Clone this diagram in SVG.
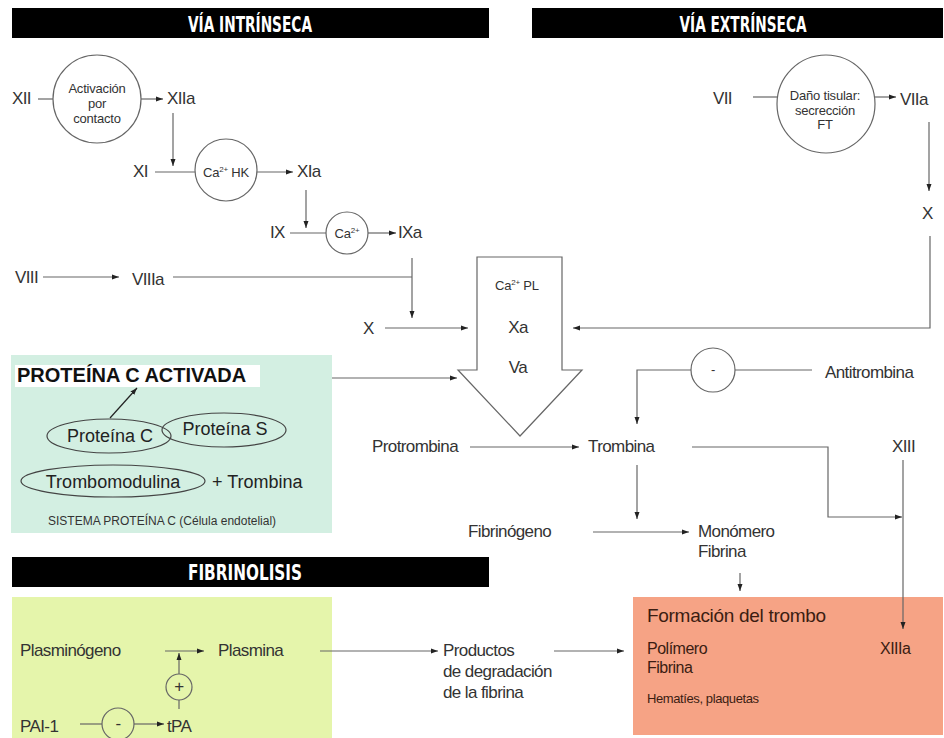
<svg xmlns="http://www.w3.org/2000/svg" width="944" height="738" viewBox="0 0 944 738">
<style>
.hdr{font-family:"DejaVu Sans Condensed","DejaVu Sans",sans-serif;font-weight:bold;font-size:22px;fill:#fff;text-anchor:middle}
.lb{font-family:"Liberation Sans",Arial,sans-serif;font-size:17px;letter-spacing:-0.6px;fill:#333}
.sm{font-family:"Liberation Sans",Arial,sans-serif;font-size:13px;letter-spacing:-0.2px;fill:#333;text-anchor:middle}
.sup{font-size:8px}
.pc{font-family:"Liberation Sans",Arial,sans-serif;font-size:18px;fill:#222}
.tr{font-family:"Liberation Sans",Arial,sans-serif;font-size:16px;letter-spacing:-0.5px;fill:#3b1d12}
.ln{fill:none;stroke:#666;stroke-width:1.2}
.ar{fill:none;stroke:#666;stroke-width:1.2;marker-end:url(#ah)}
.circ{fill:#fff;stroke:#666;stroke-width:1.2}
.ell{fill:none;stroke:#444;stroke-width:1.2}
</style>
<defs>
<marker id="ah" markerUnits="userSpaceOnUse" markerWidth="7" markerHeight="6" refX="7" refY="3" orient="auto">
<path d="M0,0.5 L7,3 L0,5.5 z" fill="#222"/>
</marker>
</defs>
<rect width="944" height="738" fill="#fff"/>

<!-- headers -->
<g id="hdr-intrinseca"><rect x="12" y="8" width="477" height="30" fill="#000"/><text class="hdr" x="250" y="32" textLength="124" lengthAdjust="spacingAndGlyphs">VÍA INTRÍNSECA</text></g>
<g id="hdr-extrinseca"><rect x="532" y="8" width="411" height="30" fill="#000"/><text class="hdr" x="743" y="32" textLength="127" lengthAdjust="spacingAndGlyphs">VÍA EXTRÍNSECA</text></g>
<g id="hdr-fibrinolisis"><rect x="12" y="557" width="477" height="30" fill="#000"/><text class="hdr" x="245" y="580" textLength="114" lengthAdjust="spacingAndGlyphs">FIBRINOLISIS</text></g>

<!-- panels -->
<g id="proteina-c">
<rect x="11" y="355" width="321" height="178" fill="#d3efe2"/>
<rect x="15" y="365" width="245" height="22" fill="#fff"/>
<text x="17" y="382" font-family="Liberation Sans,Arial,sans-serif" font-weight="bold" font-size="20" fill="#111">PROTEÍNA C ACTIVADA</text>
<ellipse class="ell" cx="109" cy="436" rx="62" ry="17"/>
<ellipse class="ell" cx="224" cy="430" rx="62" ry="17"/>
<ellipse class="ell" cx="113" cy="481" rx="92" ry="16"/>
<text class="pc" x="110" y="442" text-anchor="middle">Proteína C</text>
<text class="pc" x="225" y="435" text-anchor="middle">Proteína S</text>
<text class="pc" x="113" y="488" text-anchor="middle">Trombomodulina</text>
<text class="pc" x="212" y="488">+  Trombina</text>
<text x="48" y="525" font-family="Liberation Sans,Arial,sans-serif" font-size="12" fill="#333">SISTEMA PROTEÍNA C (Célula endotelial)</text>
<line x1="110" y1="418" x2="137" y2="388" stroke="#222" stroke-width="1.2" marker-end="url(#ah)"/>
</g>

<g id="fibrinolisis">
<rect x="12" y="597" width="320" height="141" fill="#e5f5ab"/>
<text class="lb" x="20" y="656">Plasminógeno</text>
<text class="lb" x="218" y="656">Plasmina</text>
<text class="lb" x="20" y="732">PAI-1</text>
<text class="lb" x="167" y="732">tPA</text>
<circle cx="179" cy="687" r="13" fill="none" stroke="#666" stroke-width="1.2"/>
<text class="lb" x="179" y="692" text-anchor="middle">+</text>
<circle cx="118" cy="724" r="16" fill="none" stroke="#666" stroke-width="1.2"/>
<text class="lb" x="118" y="729" text-anchor="middle">-</text>
</g>

<g id="trombo">
<rect x="633" y="597" width="310" height="138" fill="#f6a385"/>
<text x="647" y="622" font-family="Liberation Sans,Arial,sans-serif" font-size="19" letter-spacing="-0.3" fill="#3b1d12">Formación del trombo</text>
<text class="tr" x="647" y="654">Polímero</text>
<text class="tr" x="647" y="673">Fibrina</text>
<text class="tr" x="880" y="654">XIIIa</text>
<text x="647" y="703" font-family="Liberation Sans,Arial,sans-serif" font-size="13" letter-spacing="-0.4" fill="#3b1d12">Hematíes, plaquetas</text>
</g>

<!-- intrinsic nodes -->
<g id="xii"><text class="lb" x="12" y="104">XII</text></g>
<g id="activacion"><circle class="circ" cx="97" cy="99" r="44"/>
<text class="sm" x="97" y="93">Activación</text><text class="sm" x="97" y="108">por</text><text class="sm" x="97" y="123">contacto</text></g>
<g id="xiia"><text class="lb" x="167" y="104">XIIa</text></g>
<g id="xi"><text class="lb" x="133" y="177">XI</text></g>
<g id="ca-hk"><circle class="circ" cx="226" cy="170" r="31"/>
<text class="sm" x="226" y="177">Ca<tspan class="sup" dy="-5">2+</tspan><tspan dy="5"> HK</tspan></text></g>
<g id="xia"><text class="lb" x="297" y="177">XIa</text></g>
<g id="ix"><text class="lb" x="270" y="238">IX</text></g>
<g id="ca-ix"><circle class="circ" cx="347" cy="233" r="21"/>
<text class="sm" x="347" y="238">Ca<tspan class="sup" dy="-5">2+</tspan></text></g>
<g id="ixa"><text class="lb" x="398" y="238">IXa</text></g>
<g id="viii"><text class="lb" x="15" y="283">VIII</text></g>
<g id="viiia"><text class="lb" x="132" y="285">VIIIa</text></g>
<g id="x-int"><text class="lb" x="363" y="334">X</text></g>

<!-- extrinsic nodes -->
<g id="vii"><text class="lb" x="713" y="104">VII</text></g>
<g id="dano"><circle class="circ" cx="826" cy="104" r="49"/>
<text class="sm" x="825" y="100">Daño tisular:</text><text class="sm" x="825" y="115">secrección</text><text class="sm" x="825" y="129">FT</text></g>
<g id="viia"><text class="lb" x="900" y="105">VIIa</text></g>
<g id="x-ext"><text class="lb" x="922" y="219">X</text></g>

<!-- common -->
<g id="complejo">
<polygon points="477,257 562,257 562,370 582,370 520,436 458,370 477,370" fill="#fff" stroke="#666" stroke-width="1.2"/>
<text class="sm" x="495" y="290" style="text-anchor:start">Ca<tspan class="sup" dy="-5">2+</tspan><tspan dy="5">  PL</tspan></text>
<text class="lb" x="518" y="333" text-anchor="middle">Xa</text>
<text class="lb" x="518" y="373" text-anchor="middle">Va</text>
</g>
<g id="protrombina"><text class="lb" x="372" y="452">Protrombina</text></g>
<g id="trombina"><text class="lb" x="588" y="452">Trombina</text></g>
<g id="antitrombina"><circle class="circ" cx="713" cy="370" r="22"/><text class="sm" x="713" y="374">-</text>
<text class="lb" x="825" y="378">Antitrombina</text></g>
<g id="xiii"><text class="lb" x="892" y="452">XIII</text></g>
<g id="fibrinogeno"><text class="lb" x="468" y="537">Fibrinógeno</text></g>
<g id="monomero"><text class="lb" x="698" y="537">Monómero</text><text class="lb" x="698" y="557">Fibrina</text></g>
<g id="productos"><text class="lb" x="443" y="656">Productos</text><text class="lb" x="443" y="677">de degradación</text><text class="lb" x="443" y="698">de la fibrina</text></g>

<!-- connectors -->
<g id="connectors">
<line class="ln" x1="38" y1="99" x2="53" y2="99"/>
<line class="ar" x1="141" y1="99" x2="163" y2="99"/>
<line class="ar" x1="173" y1="113" x2="173" y2="166"/>
<line class="ln" x1="155" y1="172" x2="195" y2="172"/>
<line class="ar" x1="257" y1="172" x2="293" y2="172"/>
<line class="ar" x1="306" y1="190" x2="306" y2="228"/>
<line class="ln" x1="290" y1="233" x2="326" y2="233"/>
<line class="ar" x1="368" y1="233" x2="396" y2="233"/>
<line class="ar" x1="43" y1="277" x2="119" y2="277"/>
<line class="ln" x1="173" y1="277" x2="412" y2="277"/>
<line class="ar" x1="412" y1="258" x2="412" y2="318"/>
<line class="ar" x1="385" y1="328" x2="468" y2="328"/>
<line class="ar" x1="332" y1="378" x2="457" y2="378"/>
<line class="ln" x1="753" y1="97" x2="777" y2="97"/>
<line class="ar" x1="875" y1="97" x2="896" y2="97"/>
<line class="ar" x1="929" y1="122" x2="929" y2="191"/>
<polyline class="ar" points="930,236 930,328 573,328"/>
<line class="ar" x1="470" y1="447" x2="579" y2="447"/>
<line class="ln" x1="735" y1="370" x2="812" y2="370"/>
<polyline class="ar" points="691,370 637,370 637,424"/>
<line class="ar" x1="637" y1="465" x2="637" y2="519"/>
<line class="ar" x1="593" y1="532" x2="689" y2="532"/>
<polyline class="ar" points="692,447 828,447 828,517 902,517"/>
<line class="ar" x1="903" y1="460" x2="903" y2="629"/>
<line class="ar" x1="740" y1="573" x2="740" y2="591"/>
<line class="ar" x1="165" y1="651" x2="204" y2="651"/>
<line class="ar" x1="320" y1="651" x2="438" y2="651"/>
<line class="ar" x1="554" y1="651" x2="624" y2="651"/>
<line class="ar" x1="179" y1="674" x2="179" y2="653"/>
<line class="ln" x1="179" y1="700" x2="179" y2="709"/>
<line class="ln" x1="80" y1="724" x2="102" y2="724"/>
<line class="ar" x1="134" y1="724" x2="164" y2="724"/>
</g>
</svg>
